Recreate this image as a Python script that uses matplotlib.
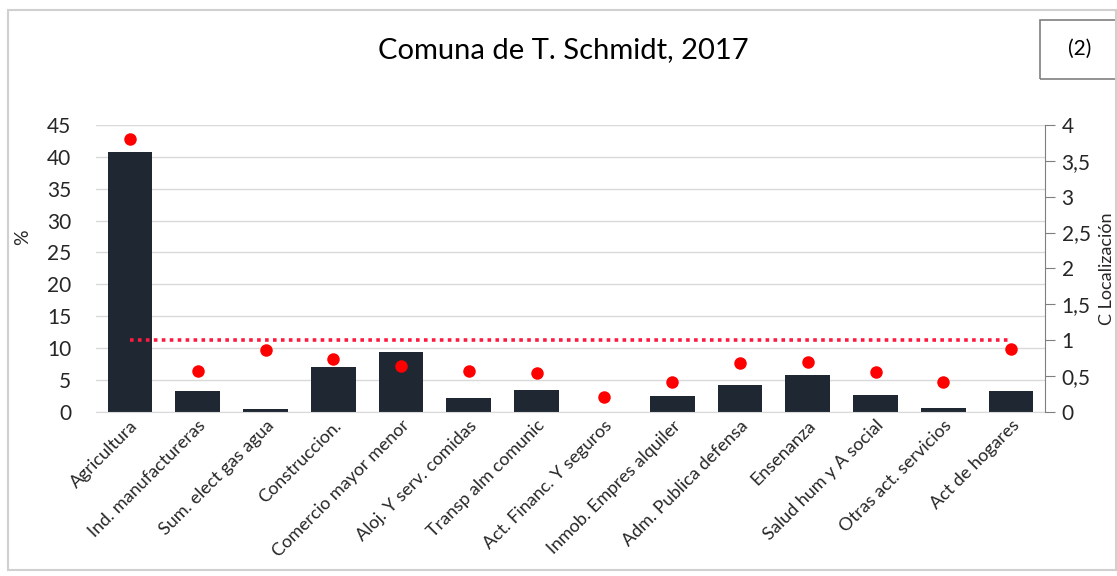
import matplotlib.pyplot as plt
from matplotlib.patches import Rectangle
from matplotlib.ticker import FuncFormatter

sectores = ['Agricultura', 'Ind. manufactureras', 'Sum. elect gas agua', 'Construccion.',
            'Comercio mayor menor', 'Aloj. Y serv. comidas', 'Transp alm comunic',
            'Act. Financ. Y seguros', 'Inmob. Empres alquiler', 'Adm. Publica defensa',
            'Ensenanza', 'Salud hum y A social', 'Otras act. servicios', 'Act de hogares']
porcentaje = [40.8, 3.3, 0.4, 7.0, 9.4, 2.1, 3.5, 0.0, 2.5, 4.2, 5.8, 2.7, 0.6, 3.3]
coef_loc = [3.81, 0.57, 0.86, 0.73, 0.64, 0.57, 0.54, 0.20, 0.41, 0.68, 0.69, 0.55, 0.42, 0.88]
referencia = [1] * len(sectores)

plt.rcParams['font.family'] = ['Lato', 'DejaVu Sans']
texto = '#262626'

fig = plt.figure(figsize=(11.17, 5.76), dpi=100)
ax = fig.add_axes([0.086, 0.285, 0.8495, 0.498])
x = range(len(sectores))

ax.bar(x, porcentaje, width=0.66, color='#1e2732', zorder=2)
ax.set_ylim(0, 45)
ax.set_yticks(range(0, 46, 5))
ax.set_xlim(-0.5, len(sectores) - 0.5)
ax.grid(axis='y', color='#d9d9d9', lw=1, zorder=0)
ax.tick_params(axis='y', length=0, labelsize=15, labelcolor=texto, pad=18)
ax.tick_params(axis='x', length=0, pad=4)
ax.set_xticks(list(x))
ax.set_xticklabels(sectores, rotation=45, ha='right', rotation_mode='anchor',
                   fontsize=13, color=texto)
for s in ['top', 'left', 'right']:
    ax.spines[s].set_visible(False)
ax.spines['bottom'].set_color('#d9d9d9')
ax.set_ylabel('%', fontsize=14, color=texto)
ax.yaxis.set_label_coords(-0.068, 0.61)

ax2 = ax.twinx()
ax2.plot(x, referencia, color='#ff1a40', lw=2.6, linestyle=(0, (1, 1.2)), zorder=3)
ax2.plot(x, coef_loc, 'o', color='#ff0000', ms=9, mec='none', zorder=4)
ax2.set_ylim(0, 4)
ax2.set_yticks([0, 0.5, 1, 1.5, 2, 2.5, 3, 3.5, 4])
ax2.yaxis.set_major_formatter(FuncFormatter(lambda v, p: f'{v:g}'.replace('.', ',')))
ax2.tick_params(axis='y', direction='out', length=7, color='#7f7f7f',
                labelsize=15, labelcolor=texto, pad=5)
for s in ['top', 'left', 'bottom']:
    ax2.spines[s].set_visible(False)
ax2.spines['right'].set_color('#7f7f7f')
ax2.set_ylabel('C Localización', fontsize=13, color=texto, labelpad=6)

fig.text(0.504, 0.913, 'Comuna de T. Schmidt, 2017', ha='center', va='center',
         fontsize=21, color='black')
fig.text(0.9665, 0.915, '(2)', ha='center', va='center', fontsize=15, color='black')
fig.patches.append(Rectangle((0.931, 0.862), 0.0705, 0.103, transform=fig.transFigure,
                             fill=False, ec='#7f7f7f', lw=1.2))
fig.patches.append(Rectangle((0.007, 0.01), 0.992, 0.973, transform=fig.transFigure,
                             fill=False, ec='#d0d0d0', lw=1.5))

fig.savefig('out.png', dpi=100)
